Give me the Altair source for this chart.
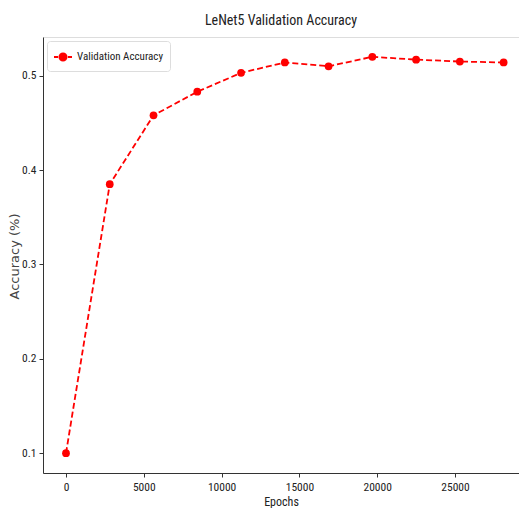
import altair as alt
import pandas as pd

epochs = [0, 2812, 5625, 8437, 11250, 14062, 16875, 19687, 22500, 25312, 28125]
accuracy = [0.100, 0.385, 0.458, 0.483, 0.503, 0.514, 0.510, 0.520, 0.517, 0.515, 0.514]
series = ["Validation Accuracy"] * len(epochs)
x_ticks = [0, 5000, 10000, 15000, 20000, 25000]
y_ticks = [0.1, 0.2, 0.3, 0.4, 0.5]

df = pd.DataFrame({"Epochs": epochs, "Accuracy": accuracy, "series": series})

FONT = "Roboto Condensed, Liberation Sans Narrow, Roboto"
RED = "#ff0000"

x = alt.X("Epochs:Q", title="Epochs",
          scale=alt.Scale(domain=[-1478, 29113], nice=False, zero=False),
          axis=alt.Axis(values=x_ticks, format="d", grid=False, tickSize=4,
                        labelFont=FONT, labelFontSize=11.5, labelColor="#222",
                        titleFont=FONT, titleFontSize=12, titleFontWeight="normal",
                        titleColor="#222", labelPadding=4, titlePadding=4,
                        domainColor="#333", tickColor="#333"))
y = alt.Y("Accuracy:Q", title="Accuracy (%)",
          scale=alt.Scale(domain=[0.079, 0.541], nice=False, zero=False),
          axis=alt.Axis(values=y_ticks, format=".1f", grid=False, tickSize=4,
                        labelFont=FONT, labelFontSize=11.5, labelColor="#222",
                        titleFont="DejaVu Sans", titleFontSize=13, titleFontWeight="normal",
                        titleColor="#444", labelPadding=3,
                        titleX=-29, titleY=219, titleAngle=270,
                        titleAlign="center", titleBaseline="middle",
                        domainColor="#333", tickColor="#333"))

legend_symbol = ("M -1 0 L -0.55 0 M 0.55 0 L 1 0 "
                 "M 0.39 0 A 0.39 0.39 0 1 1 -0.39 0 A 0.39 0.39 0 1 1 0.39 0 Z")

color = alt.Color("series:N", scale=alt.Scale(range=[RED]), title=None,
                  legend=alt.Legend(orient="top-left", offset=4,
                                    symbolType=legend_symbol, symbolSize=324,
                                    symbolStrokeWidth=2, symbolFillColor=RED,
                                    symbolStrokeColor=RED, labelOffset=4,
                                    labelFont=FONT, labelFontSize=11, labelColor="#222",
                                    fillColor="white", strokeColor="#ddd",
                                    cornerRadius=3, padding=6))

line = alt.Chart(df).mark_line(strokeDash=[6, 3], strokeWidth=1.8).encode(
    x=x, y=y, color=color)
pts = alt.Chart(df).mark_point(filled=True, size=60, opacity=1, shape="circle").encode(
    x=x, y=y, color=alt.Color("series:N", scale=alt.Scale(range=[RED]), legend=None))

chart = (line + pts).properties(
    width=476, height=436,
    title=alt.Title("LeNet5 Validation Accuracy", font=FONT, fontSize=14,
                    fontWeight="normal", color="#222", offset=9),
    autosize=alt.AutoSizeParams(type="none"),
    padding={"left": 35, "top": 29, "right": 0, "bottom": 35},
).configure_view(stroke="#222", strokeWidth=1.2).configure(background="white")

chart.save("out.html", embed_options={"renderer": "svg", "actions": False})
